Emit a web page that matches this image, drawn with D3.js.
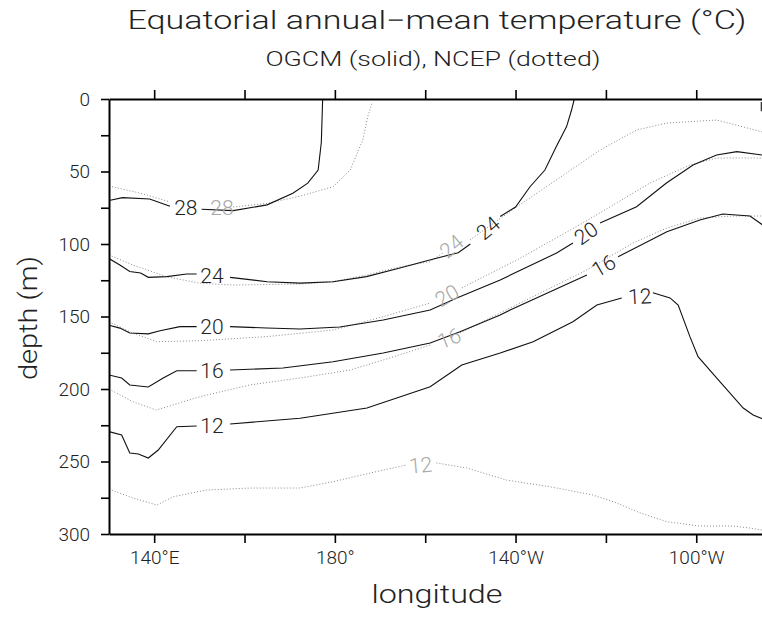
<!DOCTYPE html>
<html>
<head>
<meta charset="utf-8">
<script src="https://cdn.jsdelivr.net/npm/d3@7"></script>
<style>
  body { margin: 0; background: #fff; }
  text { font-family: Roboto, "Open Sans", Lato, sans-serif; font-weight: 300; fill: #222; }
</style>
</head>
<body>
<div class="chart"></div>
<script>
// contour lines, [longitude (deg E), depth (m)], null = gap for a label
var ogcm28 = [[130, 70], [133, 68], [139, 69], [143.5, 74], null,
  [150.5, 76], [157.5, 77], [165, 73], [170.7, 65], [174, 58], [176.3, 49], [177, 30], [177.3, 0]];
var ogcm28east = [[274.4, 2], [274.4, 8.5]];
var ogcm24 = [[130, 110], [132.4, 114.5], [134.6, 119], [137, 120], [138.7, 123], [142.8, 122.5],
  [147.2, 120.7], [149.4, 120.7], null,
  [156.8, 123], [165, 126], [172.3, 127], [179.6, 126], [187, 122.5], [194.4, 116.5], [201, 111],
  [207.3, 106], [210, 100], null,
  [216.6, 81], [220, 74.5], [223.2, 60.5], [226.5, 49], [229, 33], [231.3, 19], [232.4, 7.6], [233, 0]];
var ogcm20 = [[130, 156], [132.4, 158], [134.6, 161.4], [138.7, 162], [141.3, 159.8], [145.7, 157],
  [149.4, 157], null,
  [156.8, 157], [164.9, 157.9], [172.3, 158.6], [181.1, 157.2], [190.7, 152.4], [201.1, 145.5],
  [207, 137.2], [216.6, 124.8], [229.1, 106.2], [232.7, 99.3], null,
  [238.7, 85.5], [246.8, 74.3], [253.4, 57.9], [259.3, 45.5], [264.5, 38.6], [269, 36.3], [275, 38.8]];
var ogcm16 = [[130, 190.3], [132.8, 192.4], [134.6, 197.2], [138.7, 198.6], [142, 192.4], [145, 187.4],
  [149.4, 187.4], null,
  [156.8, 186.9], [168.5, 185.5], [179.6, 181.2], [190.7, 175.2], [201.1, 168.3], [207.7, 160.5],
  [216.6, 149], [218.8, 145.5], [235.8, 121.4], null,
  [242.7, 108.8], [253.5, 91.5], [260.8, 83.4], [265.9, 79.3], [271.9, 80.7], [275, 87.5]];
var ogcm12 = [[130, 229.4], [132.8, 231.7], [134.6, 244.1], [136.5, 244.8], [138.7, 247.6], [140.9, 242.1],
  [145, 226], [149.4, 225.5], null,
  [156.8, 224.1], [172.3, 220.2], [187.1, 213.1], [201.1, 198.4], [208.1, 183.4], [216.6, 175.2],
  [223.9, 167.4], [232.7, 153.6], [238, 142.1], [243.5, 137.2], null,
  [250.4, 133.6], [254.2, 137.2], [256, 142.1], [258.6, 163.9], [260.4, 177.7], [264.5, 192.4],
  [270.4, 213.1], [272.6, 217.9], [275, 221]];

var ncep28 = [[130, 60], [137, 65], [143.5, 71], null,
  [157.5, 74.5], [165, 72], [172.3, 67], [179.6, 60.5], [183.4, 49], [186.2, 28], [187.3, 12], [188.2, 3]];
var ncep24 = [[130, 107.5], [135.3, 114.5], [142.8, 122.6], [150, 127], [157.5, 128.3], [172.3, 127.6],
  [179.6, 126], [187, 121.4], [194.4, 115.7], [201, 112.2], [203.9, 106.2], null,
  [209.9, 97.2], [220.3, 74.3], [231.3, 51], [238.7, 35.2], [246.8, 21.4], [253.5, 16.6], [264.5, 14.5],
  [275, 23]];
var ncep20 = [[130, 153.6], [134.6, 160.5], [140.5, 167.4], [150.1, 166.7], [164.9, 163.9], [179.6, 159.3],
  [190.7, 150.1], [201.1, 140.7], null,
  [208.1, 130.3], [220.3, 111], [234.9, 85.5], [249.8, 57.9], [258.6, 45.5], [264.5, 40.7], [275, 40.7]];
var ncep16 = [[130, 200], [135.3, 208.8], [140.5, 214.5], [150.1, 205.3], [161.2, 197.2], [172.3, 192.4],
  [183.4, 186.9], [192.2, 178.6], [201.1, 169.7], null,
  [207.7, 161.4], [218.8, 144.1], [235.8, 117.9], [246, 99.3], [253.5, 89], [260.8, 82.1], [268.1, 80.7],
  [275, 80.7]];
var ncep12 = [[130, 269], [135.3, 275.2], [140.6, 280], [144.2, 274.3], [151.6, 269.7], [161.2, 268.3],
  [172.3, 268.3], [179.6, 263.9], [190.7, 255.9], [195.9, 252.4], null,
  [202.5, 251], [209.2, 254.5], [218, 262.8], [227.6, 267.4], [237.1, 273.1], [242.4, 278.6], [247.6, 285.5],
  [253.5, 291.5], [260.8, 294.5], [268.1, 294.5], [271.9, 295.9], [275, 297.5]];

// contour labels: [longitude, depth, value, slope in degrees]
var ogcmLabels = [[147, 75, "28", 0], [152.8, 122, "24", 0], [152.8, 157, "20", 0], [152.8, 187, "16", 0],
  [152.8, 225, "12", 0], [213.9, 89, "24", -40], [235.6, 92.5, "20", -35], [239.5, 115, "16", -30],
  [247.5, 136, "12", -3]];
var ncepLabels = [[155, 75, "28", 0], [205.8, 101.5, "24", -40], [204.8, 135.5, "20", -30],
  [205.3, 165, "16", -22], [199, 252.4, "12", -5]];

var lonTicks = [140, 160, 180, 200, 220, 240, 260];
var lonLabels = { 140: "140°E", 180: "180°", 220: "140°W", 260: "100°W" };
var depthTicks = [0, 25, 50, 75, 100, 125, 150, 175, 200, 225, 250, 275, 300];

var W = 762, H = 618;
var svg = d3.select('.chart').append('svg')
  .attr('width', W)
  .attr('height', H);

var x = d3.scaleLinear().domain([130, 275]).range([109, 764]);
var y = d3.scaleLinear().domain([0, 300]).range([99, 534]);

svg.append('clipPath').attr('id', 'plot-clip')
  .append('rect')
  .attr('x', x(130)).attr('y', y(0))
  .attr('width', x(275) - x(130)).attr('height', y(300) - y(0));

var line = d3.line()
  .defined(function (d) { return d !== null; })
  .x(function (d) { return x(d[0]); })
  .y(function (d) { return y(d[1]); });

var plot = svg.append('g').attr('clip-path', 'url(#plot-clip)');

// NCEP, dotted
plot.selectAll('.ncep')
  .data([ncep28, ncep24, ncep20, ncep16, ncep12])
  .enter().append('path')
  .attr('class', 'ncep')
  .attr('d', line)
  .style('fill', 'none')
  .style('stroke', '#8a8a8a')
  .style('stroke-width', 1)
  .style('stroke-dasharray', '1,2');

// OGCM, solid
plot.selectAll('.ogcm')
  .data([ogcm28, ogcm28east, ogcm24, ogcm20, ogcm16, ogcm12])
  .enter().append('path')
  .attr('class', 'ogcm')
  .attr('d', line)
  .style('fill', 'none')
  .style('stroke', '#111')
  .style('stroke-width', 1.1);

function addLabels(rows, color) {
  plot.selectAll(null)
    .data(rows)
    .enter().append('text')
    .attr('transform', function (d) {
      return 'translate(' + x(d[0]) + ',' + y(d[1]) + ')rotate(' + d[3] + ')';
    })
    .attr('text-anchor', 'middle')
    .attr('dy', '0.36em')
    .style('font-size', '21px')
    .style('fill', color)
    .text(function (d) { return d[2]; });
}
addLabels(ncepLabels, '#a8a8a8');
addLabels(ogcmLabels, '#222');

// axes
var xBottom = d3.axisBottom(x)
  .tickValues(lonTicks)
  .tickSize(9)
  .tickSizeOuter(0)
  .tickPadding(8)
  .tickFormat(function (d) { return lonLabels[d] || ''; });
var xTop = d3.axisTop(x)
  .tickValues(lonTicks)
  .tickSize(9)
  .tickSizeOuter(0)
  .tickFormat('');
var yLeft = d3.axisLeft(y)
  .tickValues(depthTicks)
  .tickSize(8)
  .tickSizeOuter(0)
  .tickPadding(11)
  .tickFormat(function (d) { return d % 50 === 0 ? d : ''; });

svg.append('g').attr('class', 'axis')
  .attr('transform', 'translate(0,' + y(300) + ')')
  .call(xBottom);
svg.append('g').attr('class', 'axis')
  .attr('transform', 'translate(0,' + y(0) + ')')
  .call(xTop);
svg.append('g').attr('class', 'axis')
  .attr('transform', 'translate(' + x(130) + ',0)')
  .call(yLeft);

svg.selectAll('.axis .domain').style('stroke', '#000').style('stroke-width', 2);
svg.selectAll('.axis .tick line').style('stroke', '#000').style('stroke-width', 1.6);
svg.selectAll('.axis text')
  .style('font-family', 'Roboto, "Open Sans", Lato, sans-serif')
  .style('font-weight', 300)
  .style('font-size', '19px')
  .style('fill', '#222');

// titles
svg.append('text')
  .attr('x', 437).attr('y', 29)
  .attr('text-anchor', 'middle')
  .attr('textLength', 619)
  .attr('lengthAdjust', 'spacingAndGlyphs')
  .style('font-size', '25px')
  .text('Equatorial annual\u2212mean temperature (°C)');

svg.append('text')
  .attr('x', 433).attr('y', 66)
  .attr('text-anchor', 'middle')
  .attr('textLength', 335)
  .attr('lengthAdjust', 'spacingAndGlyphs')
  .style('font-size', '21px')
  .text('OGCM (solid), NCEP (dotted)');

svg.append('text')
  .attr('x', 437).attr('y', 603)
  .attr('text-anchor', 'middle')
  .attr('textLength', 131)
  .attr('lengthAdjust', 'spacingAndGlyphs')
  .style('font-size', '25px')
  .text('longitude');

svg.append('text')
  .attr('transform', 'translate(37,318)rotate(-90)')
  .attr('text-anchor', 'middle')
  .attr('textLength', 124)
  .attr('lengthAdjust', 'spacingAndGlyphs')
  .style('font-size', '25px')
  .text('depth (m)');
</script>
</body>
</html>
